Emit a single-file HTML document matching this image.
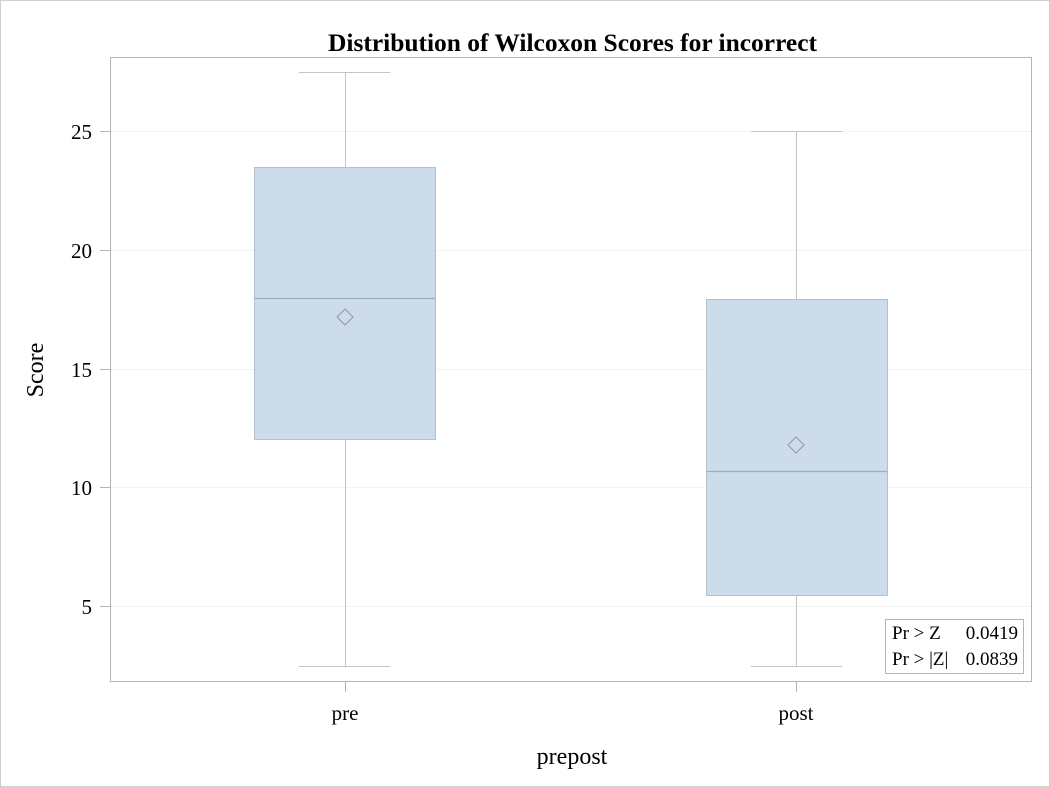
<!DOCTYPE html>
<html>
<head>
<meta charset="utf-8">
<style>
html,body{margin:0;padding:0;background:#fff;}
svg{display:block;}
text{font-family:"Liberation Serif","Times New Roman",serif;fill:#000;}
</style>
</head>
<body>
<svg width="1050" height="787" viewBox="0 0 1050 787" xmlns="http://www.w3.org/2000/svg">
  <rect x="0.5" y="0.5" width="1049" height="786" fill="#fff" stroke="#d0d0d0" stroke-width="1"/>
  <!-- title -->
  <text x="572.5" y="51" text-anchor="middle" font-size="25" font-weight="bold" textLength="489" lengthAdjust="spacingAndGlyphs">Distribution of Wilcoxon Scores for incorrect</text>

  <!-- gridlines -->
  <g stroke="#f3f3f3" stroke-width="1">
    <line x1="111" y1="131.5" x2="1031" y2="131.5"/>
    <line x1="111" y1="250.5" x2="1031" y2="250.5"/>
    <line x1="111" y1="369.5" x2="1031" y2="369.5"/>
    <line x1="111" y1="487.5" x2="1031" y2="487.5"/>
    <line x1="111" y1="606.5" x2="1031" y2="606.5"/>
  </g>

  <!-- pre -->
  <g stroke="#c4c4c4" stroke-width="1">
    <line x1="345.5" y1="72" x2="345.5" y2="167"/>
    <line x1="299" y1="72.5" x2="390" y2="72.5"/>
    <line x1="345.5" y1="440" x2="345.5" y2="666"/>
    <line x1="299" y1="666.5" x2="390" y2="666.5"/>
  </g>
  <rect x="254.5" y="167.5" width="181" height="272" fill="#cddceb" stroke="#b3c0cd" stroke-width="1"/>
  <line x1="255" y1="298.5" x2="435" y2="298.5" stroke="#9eadbc" stroke-width="1.2"/>
  <polygon points="345,309 353,317 345,325 337,317" fill="none" stroke="#8d98a4" stroke-width="1"/>

  <!-- post -->
  <g stroke="#c4c4c4" stroke-width="1">
    <line x1="796.5" y1="131" x2="796.5" y2="299"/>
    <line x1="751" y1="131.5" x2="842" y2="131.5"/>
    <line x1="796.5" y1="596" x2="796.5" y2="666"/>
    <line x1="751" y1="666.5" x2="842" y2="666.5"/>
  </g>
  <rect x="706.5" y="299.5" width="181" height="296" fill="#cddceb" stroke="#b3c0cd" stroke-width="1"/>
  <line x1="707" y1="471.5" x2="887" y2="471.5" stroke="#9eadbc" stroke-width="1.2"/>
  <polygon points="796,437 804,445 796,453 788,445" fill="none" stroke="#8d98a4" stroke-width="1"/>

  <!-- frame -->
  <rect x="110.5" y="57.5" width="921" height="624" fill="none" stroke="#b4b4b4" stroke-width="1"/>

  <!-- y ticks -->
  <g stroke="#b4b4b4" stroke-width="1">
    <line x1="100" y1="131.5" x2="110" y2="131.5"/>
    <line x1="100" y1="250.5" x2="110" y2="250.5"/>
    <line x1="100" y1="369.5" x2="110" y2="369.5"/>
    <line x1="100" y1="487.5" x2="110" y2="487.5"/>
    <line x1="100" y1="606.5" x2="110" y2="606.5"/>
    <line x1="345.5" y1="682" x2="345.5" y2="692"/>
    <line x1="796.5" y1="682" x2="796.5" y2="692"/>
  </g>
  <g font-size="21" text-anchor="end">
    <text x="92" y="139">25</text>
    <text x="92" y="258">20</text>
    <text x="92" y="377">15</text>
    <text x="92" y="495">10</text>
    <text x="92" y="614">5</text>
  </g>
  <g font-size="21" text-anchor="middle">
    <text x="345" y="720">pre</text>
    <text x="796" y="720">post</text>
  </g>
  <text x="572" y="764" font-size="24" text-anchor="middle">prepost</text>
  <text transform="translate(43,370) rotate(-90)" font-size="24" text-anchor="middle">Score</text>

  <!-- inset -->
  <rect x="885.5" y="619.5" width="138" height="54" fill="#fff" stroke="#b4b4b4" stroke-width="1"/>
  <g font-size="19">
    <text x="892" y="639">Pr &gt; Z</text>
    <text x="892" y="665">Pr &gt; |Z|</text>
    <text x="1018" y="639" text-anchor="end">0.0419</text>
    <text x="1018" y="665" text-anchor="end">0.0839</text>
  </g>
</svg>
</body>
</html>
